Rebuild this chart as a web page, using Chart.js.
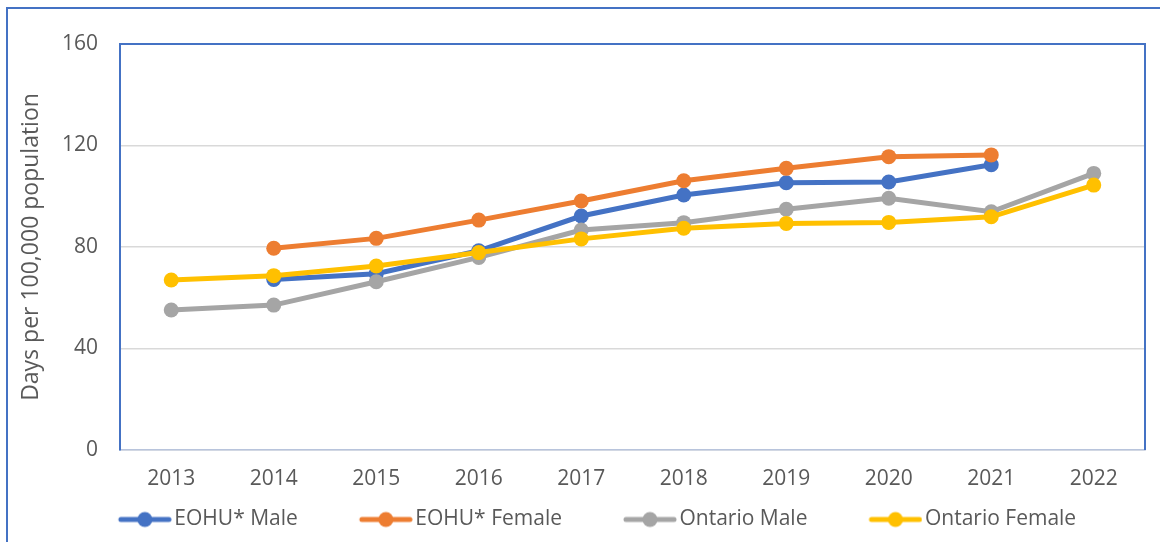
<!DOCTYPE html>
<html>
<head>
<meta charset="utf-8">
<title>Days per 100,000 population</title>
<script src="https://cdn.jsdelivr.net/npm/chart.js@4.4.1/dist/chart.umd.min.js"></script>
<style>
    html, body { margin: 0; padding: 0; background: #fff; }
    #wrap { position: relative; width: 1160px; height: 542px; overflow: hidden; }
    #frame { position: absolute; left: 6px; top: 7px; right: 0; bottom: 0;
             border-left: 2px solid #4472c4; border-top: 2px solid #4472c4; }
    #chart { position: absolute; left: 0; top: 0; }
</style>
</head>
<body>
<div id="wrap">
    <div id="frame"></div>
    <canvas id="chart" width="1160" height="542"></canvas>
</div>
<script>
// =========================
// Data
// =========================
const years = ["2013", "2014", "2015", "2016", "2017", "2018", "2019", "2020", "2021", "2022"];
const eohuMale      = [null, 67.2, 69.5, 78.5, 92.2, 100.5, 105.3, 105.6, 112.4, null];
const eohuFemale    = [null, 79.5, 83.4, 90.6, 98.1, 106.1, 111.0, 115.6, 116.3, null];
const ontarioMale   = [55.2, 57.1, 66.3, 75.9, 86.7, 89.6, 94.9, 99.2, 93.9, 109.0];
const ontarioFemale = [67.0, 68.7, 72.5, 77.8, 83.2, 87.4, 89.3, 89.7, 91.9, 104.4];
const yTicks = [0, 40, 80, 120, 160];

const textColor = "#595959";
const fontFamily = "'Open Sans', sans-serif";

// =========================
// Legend marker (line + dot)
// =========================
function legendMark(color) {
    const c = document.createElement("canvas");
    c.width = 111;
    c.height = 18;
    const g = c.getContext("2d");
    g.strokeStyle = color;
    g.lineWidth = 5;
    g.lineCap = "round";
    g.beginPath();
    g.moveTo(60, 9);
    g.lineTo(108, 9);
    g.stroke();
    g.fillStyle = color;
    g.beginPath();
    g.arc(84, 9, 7.5, 0, Math.PI * 2);
    g.fill();
    return c;
}

function series(label, data, color) {
    return {
        label,
        data,
        borderColor: color,
        backgroundColor: color,
        borderWidth: 5,
        pointRadius: 7.5,
        pointHoverRadius: 7.5,
        pointBorderWidth: 0,
        pointBackgroundColor: color,
        tension: 0,
        spanGaps: false,
        mark: legendMark(color)
    };
}

// drawn last-to-first, so Ontario Female ends up on top
const datasets = [
    series("Ontario Female", ontarioFemale, "#ffc000"),
    series("Ontario Male", ontarioMale, "#a5a5a5"),
    series("EOHU* Female", eohuFemale, "#ed7d31"),
    series("EOHU* Male", eohuMale, "#4472c4")
];

// top + right edge of the plot area
const plotFrame = {
    id: "plotFrame",
    afterDraw(chart) {
        const { ctx, chartArea: a } = chart;
        ctx.save();
        ctx.strokeStyle = "#4472c4";
        ctx.lineWidth = 2;
        ctx.beginPath();
        ctx.moveTo(a.left, a.top);
        ctx.lineTo(a.right, a.top);
        ctx.lineTo(a.right, a.bottom);
        ctx.stroke();
        ctx.restore();
    }
};

new Chart(document.getElementById("chart"), {
    type: "line",
    data: { labels: years, datasets },
    plugins: [plotFrame],
    options: {
        responsive: false,
        animation: false,
        devicePixelRatio: 1,
        layout: { padding: { left: 0, right: 15, top: 44, bottom: 2 } },
        scales: {
            x: {
                offset: true,
                grid: { display: false, drawTicks: false },
                border: { display: true, color: "#b8c4dc", width: 1.5 },
                ticks: { color: textColor, padding: 16, font: { family: fontFamily, size: 21 } },
                afterFit(scale) { scale.height = 47; }
            },
            y: {
                min: 0,
                max: 160,
                afterBuildTicks(scale) { scale.ticks = yTicks.map(v => ({ value: v })); },
                grid: { color: "#d9d9d9", lineWidth: 1.5, drawTicks: false },
                border: { color: "#4472c4", width: 2 },
                ticks: { color: textColor, padding: 22, font: { family: fontFamily, size: 21 } },
                title: {
                    display: true,
                    text: "Days per 100,000 population",
                    color: textColor,
                    padding: { top: 18 },
                    font: { family: fontFamily, size: 23 }
                },
                afterFit(scale) { scale.width = 120; }
            }
        },
        plugins: {
            tooltip: { enabled: false },
            legend: {
                position: "bottom",
                reverse: true,
                labels: {
                    color: textColor,
                    font: { family: fontFamily, size: 21 },
                    usePointStyle: true,
                    pointStyleWidth: 95,
                    padding: 12,
                    generateLabels(chart) {
                        const items = Chart.defaults.plugins.legend.labels.generateLabels(chart);
                        items.forEach(it => {
                            it.pointStyle = chart.data.datasets[it.datasetIndex].mark;
                        });
                        return items;
                    }
                }
            }
        }
    }
});
</script>
</body>
</html>
